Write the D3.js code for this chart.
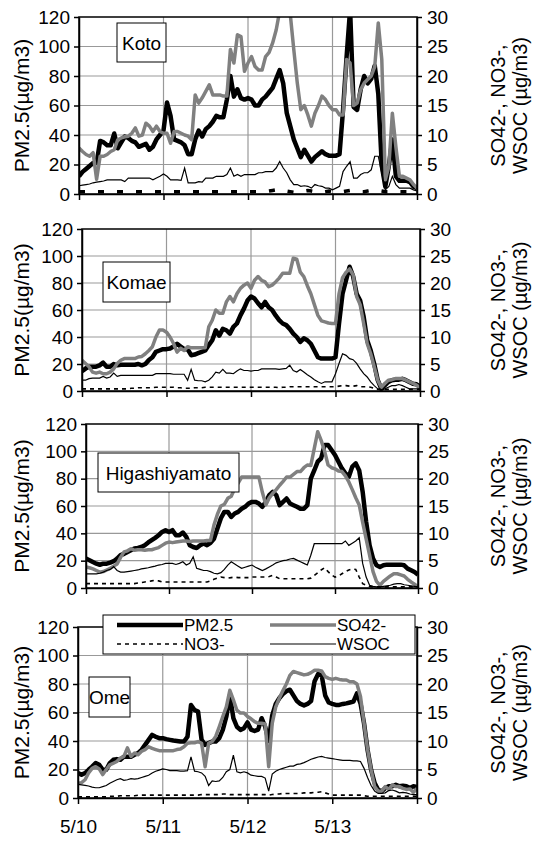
<!DOCTYPE html>
<html>
<head>
<meta charset="utf-8">
<script src="https://cdn.jsdelivr.net/npm/d3@7"></script>
<style>
  html, body { margin: 0; padding: 0; background: #fff; }
  svg { display: block; font-family: "Liberation Sans", Arial, sans-serif; }
</style>
</head>
<body>
<svg id="chart" width="542" height="841"></svg>
<script>
// hourly values, 5/10 00:00 .. 5/14 00:00 (97 points per series)
const kotoPM = [
  12, 15, 17, 19, 21, 21, 36, 35, 33, 33,
  41, 31, 35, 39, 38, 36, 35, 32, 33, 34,
  30, 32, 37, 40, 43, 62, 53, 37, 36, 35,
  33, 27, 27, 37, 43, 39, 44, 46, 49, 53,
  52, 52, 64, 80, 66, 71, 65, 64, 65, 64,
  60, 60, 64, 66, 69, 72, 78, 84, 75, 55,
  46, 37, 31, 25, 30, 26, 22, 25, 27, 29,
  27, 26, 26, 26, 27, 57, 93, 125, 59, 57,
  71, 80, 75, 78, 87, 68, 19, 5, 19, 37,
  12, 9, 9, 9, 8, 5, 4
];
const kotoSO4 = [
  7.8, 7.2, 6.7, 6.4, 7.0, 2.5, 6.4, 6.4, 6.7, 7.2,
  7.5, 9.2, 9.5, 9.7, 9.8, 10.3, 11.2, 9.8, 10.0, 12.0,
  11.5, 10.6, 11.5, 10.6, 10.3, 10.3, 8.6, 10.6, 10.6, 10.3,
  10.0, 9.8, 9.2, 16.8, 15.4, 16.3, 17.4, 18.5, 16.8, 16.8,
  16.8, 16.6, 16.6, 24.5, 22.2, 27.0, 26.7, 20.8, 22.2, 23.3,
  21.6, 21.0, 21.0, 23.3, 24.0, 25.6, 27.8, 31.0, 33.0, 34.0,
  30.5, 24.5, 18.8, 14.3, 15.0, 13.4, 11.5, 13.7, 15.0, 16.6,
  16.0, 15.0, 14.3, 14.3, 13.4, 13.4, 22.8, 22.2, 15.0, 15.4,
  17.7, 18.8, 19.4, 20.0, 21.6, 29.0, 22.8, 2.4, 4.7, 13.7,
  8.0, 3.0, 3.0, 2.7, 2.4, 1.6, 1.0
];
const kotoNO3 = [
  0.4, 0.4, 0.4, 0.4, 0.4, 0.4, 0.4, 0.4, 0.4, 0.4,
  0.4, 0.4, 0.4, 0.4, 0.4, 0.4, 0.4, 0.4, 0.4, 0.4,
  0.4, 0.4, 0.4, 0.4, 0.4, 0.4, 0.4, 0.4, 0.4, 0.4,
  0.4, 0.4, 0.4, 0.4, 0.4, 0.4, 0.4, 0.4, 0.4, 0.4,
  0.4, 0.4, 0.4, 0.4, 0.4, 0.4, 0.4, 0.4, 0.4, 0.4,
  0.4, 0.4, 0.4, 0.4, 0.5, 0.6, 0.7, 0.8, 0.7, 0.5,
  0.4, 0.3, 0.3, 0.4, 0.5, 0.6, 0.5, 0.4, 0.3, 0.3,
  0.4, 0.5, 0.4, 0.3, 0.3, 0.4, 0.5, 0.6, 0.5, 0.4,
  0.4, 0.4, 0.5, 0.6, 0.7, 0.6, 0.5, 0.4, 0.4, 0.4,
  0.4, 0.4, 0.4, 0.4, 0.4, 0.4, 0.4
];
const kotoWSOC = [
  1.4, 1.5, 1.6, 1.7, 1.9, 2.0, 2.1, 2.2, 2.4, 2.4,
  2.4, 2.4, 2.4, 2.1, 2.7, 2.7, 2.7, 2.7, 2.7, 2.7,
  2.7, 2.4, 2.7, 3.0, 3.4, 3.0, 2.4, 2.4, 2.4, 2.3,
  4.4, 1.9, 1.9, 1.9, 2.1, 2.0, 2.7, 2.7, 2.7, 3.0,
  3.0, 3.0, 3.3, 4.4, 3.0, 3.3, 3.0, 3.3, 3.3, 3.3,
  3.3, 3.6, 3.6, 3.8, 3.8, 3.8, 4.4, 5.5, 4.4, 3.6,
  2.4, 1.6, 1.6, 1.3, 1.4, 1.3, 1.0, 1.6, 1.4, 1.3,
  1.0, 1.0, 0.7, 1.0, 1.3, 3.8, 4.7, 5.5, 2.7, 2.7,
  3.3, 3.6, 3.6, 4.1, 6.4, 6.4, 3.6, 0.7, 1.3, 3.0,
  1.6, 1.0, 1.0, 1.0, 1.0, 0.7, 0.5
];

const komaePM = [
  14.6, 16.6, 18, 18, 18, 19, 21, 18, 18, 20,
  19, 19.5, 19.5, 19.5, 19.5, 19.5, 20, 19, 20, 23,
  25, 29, 30, 31, 31, 31.5, 33, 35, 33, 31,
  31, 26.5, 27, 28, 29, 30, 34, 37.6, 45, 41,
  46, 45, 42.5, 47.5, 50, 56, 61, 67, 70, 68.5,
  65, 62, 66, 62, 60, 56, 52.5, 50, 48.8, 46,
  42.5, 40, 36.4, 39, 37.6, 35, 30, 25, 24, 24,
  24, 24, 25, 50, 72, 82, 92, 85, 72, 67,
  55, 37.6, 30, 20, 8, 1.7, 4.2, 6.7, 8, 8.4,
  8.4, 9, 8, 6.7, 5.4, 5, 3
];
const komaeSO4 = [
  5.7, 5.1, 4.5, 3.5, 3.3, 3.5, 3.2, 3.2, 3.5, 4.1,
  5.1, 5.7, 6.0, 6.0, 6.0, 6.0, 6.3, 6.4, 6.9, 7.5,
  8.2, 10.0, 11.3, 11.3, 10.9, 10.0, 8.8, 7.2, 7.9, 7.5,
  8.2, 8.0, 8.0, 8.0, 8.0, 8.0, 11.9, 13.1, 15.0, 14.4,
  14.4, 16.5, 17.5, 16.5, 18.0, 19.0, 19.6, 20.0, 19.0, 20.5,
  21.2, 20.5, 20.2, 19.3, 19.6, 20.2, 20.9, 21.8, 21.8, 21.8,
  24.6, 24.4, 22.0, 21.2, 19.5, 18.0, 16.0, 14.0, 13.0, 12.8,
  12.6, 12.5, 12.5, 18.0, 21.0, 22.0, 22.6, 21.5, 17.5, 16.0,
  12.5, 8.8, 6.9, 4.5, 2.0, 0.7, 1.4, 2.0, 2.1, 2.3,
  2.3, 2.3, 2.0, 1.7, 1.4, 1.1, 0.6
];
const komaeNO3 = [
  0.4, 0.4, 0.4, 0.4, 0.4, 0.4, 0.4, 0.4, 0.4, 0.4,
  0.4, 0.4, 0.4, 0.4, 0.5, 0.5, 0.6, 0.6, 0.6, 0.6,
  0.6, 0.7, 0.7, 0.7, 0.7, 0.7, 0.7, 0.6, 0.6, 0.5,
  0.5, 0.5, 0.6, 0.6, 0.6, 0.7, 0.7, 0.7, 0.7, 0.7,
  0.7, 0.7, 0.7, 0.7, 0.7, 0.7, 0.7, 0.7, 0.7, 0.7,
  0.7, 0.7, 0.7, 0.7, 0.7, 0.7, 0.6, 0.7, 0.7, 0.8,
  0.8, 0.8, 0.8, 0.8, 0.8, 0.8, 0.8, 0.8, 0.8, 0.8,
  0.8, 0.8, 0.8, 0.9, 1.0, 1.0, 0.9, 0.9, 1.0, 0.8,
  0.8, 0.8, 0.7, 0.5, 0.3, 0.3, 0.3, 0.3, 0.3, 0.3,
  0.3, 0.3, 0.3, 0.3, 0.3, 0.3, 0.3
];
const komaeWSOC = [
  2.0, 2.0, 2.3, 2.4, 2.4, 2.4, 2.7, 2.4, 2.6, 3.3,
  2.7, 2.9, 2.9, 2.9, 2.9, 2.9, 2.9, 2.9, 2.9, 2.9,
  2.9, 3.2, 3.2, 3.2, 3.2, 3.2, 3.1, 3.1, 3.1, 3.1,
  2.0, 4.0, 2.0, 1.9, 1.9, 1.7, 2.0, 2.6, 3.5, 3.3,
  4.0, 3.3, 3.3, 3.2, 3.7, 4.1, 3.8, 3.8, 3.7, 3.8,
  3.8, 4.1, 4.1, 4.1, 4.1, 4.1, 4.0, 4.1, 4.2, 4.8,
  3.8, 3.5, 4.0, 3.5, 3.0, 2.6, 2.1, 1.7, 1.4, 1.7,
  1.7, 1.7, 3.2, 5.1, 6.9, 6.6, 6.0, 5.8, 5.1, 4.1,
  3.2, 2.6, 1.7, 1.0, 0.4, 0.1, 0.4, 0.7, 1.0, 1.0,
  1.2, 1.0, 0.7, 0.4, 0.4, 0.4, 0.4
];

const higashiPM = [
  21.5, 20.3, 19, 17.8, 17, 17.8, 17.8, 18.6, 19.6, 21.5,
  24, 25, 26.4, 27.6, 28.9, 29.3, 30, 31.3, 33.3, 35,
  36.7, 38.6, 41, 42.3, 41, 42.3, 38.6, 38.6, 40.6, 37.4,
  31.3, 30, 29.3, 31.3, 32.5, 31.3, 33, 36, 43.5, 51,
  55.7, 55.7, 52, 54.5, 55.7, 58, 59.4, 61.8, 63, 63,
  61.8, 59.4, 63, 68, 70.4, 68, 60.6, 63, 65.5, 61.8,
  60.6, 59.4, 58, 58, 60.6, 80, 86, 92.4, 94.9, 104.6,
  104.6, 101, 97.3, 92.4, 87.5, 84, 81.4, 88.8, 91.2, 86,
  70.4, 48.4, 31.3, 21.5, 16.6, 15.4, 16.6, 17.1, 17.1, 17.1,
  17.1, 17.1, 16.6, 14.2, 13, 11.7, 9.8
];
const higashiSO4 = [
  3.85, 3.7, 3.5, 3.2, 2.9, 3.0, 3.3, 3.6, 4.0, 4.4,
  5.6, 6.6, 6.8, 7.2, 6.9, 7.0, 7.0, 6.9, 7.0, 7.0,
  7.2, 7.4, 7.8, 8.2, 8.4, 8.3, 8.4, 8.5, 8.6, 8.6,
  8.5, 8.6, 8.6, 8.6, 8.6, 8.7, 8.7, 11.5, 13.5, 15.0,
  15.3, 16.4, 16.8, 18.2, 19.2, 20.3, 20.3, 20.3, 20.3, 20.3,
  20.3, 17.5, 15.2, 16.5, 17.3, 18.0, 18.8, 19.5, 20.3, 20.3,
  20.8, 21.3, 21.3, 22.0, 22.5, 22.4, 25.5, 28.6, 27.0, 25.0,
  22.5, 22.0, 21.8, 21.4, 21.3, 20.5, 19.4, 18.0, 16.5, 15.2,
  12.0, 9.0, 6.0, 3.0, 1.2, 0.5, 1.2, 1.7, 2.2, 2.6,
  2.6, 2.4, 2.2, 1.6, 1.1, 0.7, 0.2
];
const higashiNO3 = [
  0.8, 0.8, 0.8, 0.8, 0.8, 0.8, 0.8, 0.8, 0.8, 0.8,
  0.8, 0.8, 0.8, 0.8, 0.8, 0.9, 1.0, 1.1, 1.2, 1.3,
  1.4, 1.3, 1.1, 1.1, 1.1, 1.1, 1.1, 1.1, 1.1, 1.1,
  1.1, 1.1, 1.1, 1.1, 1.1, 1.1, 1.3, 1.6, 1.8, 2.0,
  1.9, 1.8, 1.9, 2.0, 1.9, 1.9, 1.9, 1.9, 2.0, 2.0,
  2.0, 2.0, 2.0, 2.1, 2.3, 2.0, 1.7, 1.7, 1.7, 1.7,
  1.7, 1.7, 1.7, 1.7, 1.7, 1.8, 2.3, 2.8, 3.3, 3.7,
  3.0, 2.4, 2.0, 2.2, 2.6, 3.0, 3.3, 3.5, 3.4, 2.0,
  0.8, 0.5, 0.3, 0.2, 0.2, 0.2, 0.2, 0.2, 0.2, 0.2,
  0.2, 0.2, 0.2, 0.2, 0.2, 0.2, 0.2
];
const higashiWSOC = [
  2.6, 2.6, 2.6, 2.6, 2.7, 2.9, 3.2, 3.4, 3.9, 3.2,
  2.9, 2.9, 3.0, 3.1, 3.2, 3.3, 3.5, 3.6, 3.7, 3.85,
  4.0, 4.2, 4.3, 4.5, 4.5, 4.5, 4.3, 4.5, 4.8, 4.2,
  4.5, 5.7, 3.6, 3.4, 3.2, 3.2, 3.0, 2.7, 2.6, 2.8,
  3.4, 4.2, 4.8, 4.4, 4.0, 3.6, 3.8, 4.0, 4.2, 3.8,
  3.5, 3.2, 3.5, 3.85, 4.2, 4.6, 4.8, 5.0, 5.1, 5.3,
  5.4, 5.1, 4.8, 4.5, 4.2, 6.0, 8.1, 8.1, 8.1, 8.1,
  8.1, 8.1, 8.1, 8.1, 8.1, 8.6, 7.8, 8.2, 8.6, 9.2,
  4.5, 2.0, 0.5, 0.3, 0.2, 0.2, 0.3, 0.4, 0.5, 0.7,
  0.8, 0.8, 0.6, 0.5, 0.4, 0.3, 0.2
];

const omePM = [
  17.5, 16.3, 17.5, 19.8, 22, 24.5, 23.3, 19.8, 19.8, 24.5,
  26.8, 27.3, 26.8, 29, 29, 29, 30.3, 31.5, 33.8, 37.3,
  40.8, 44.3, 43, 42, 42, 41.3, 40.8, 40.3, 40, 39.6,
  39.6, 43, 65.3, 61.8, 60.6, 40.8, 37.3, 38.5, 39.6, 39.6,
  42, 47.8, 57, 72, 56, 50, 47.8, 49, 53, 48,
  47, 48, 56, 50, 40, 58, 66, 70, 73, 75,
  76, 72, 68, 66, 65, 66, 68, 82, 87, 86,
  72, 67, 66, 65.3, 65.3, 66, 66.4, 67, 67.6, 73.4,
  66.4, 52.4, 33.8, 19.8, 10.5, 5.8, 4.7, 7, 8.2, 8.2,
  9.3, 8.2, 8.6, 8.2, 7, 8.2, 7.7
];
const omeSO4 = [
  2.6, 2.7, 3.2, 4.4, 5.2, 5.5, 5.1, 4.1, 5.0, 5.8,
  6.1, 6.4, 7.0, 7.3, 8.8, 7.3, 7.9, 7.6, 8.2, 8.5,
  9.0, 8.7, 8.5, 8.3, 8.3, 8.3, 8.3, 8.3, 8.5, 8.6,
  9.0, 9.6, 9.7, 9.7, 9.9, 9.6, 5.5, 9.6, 9.9, 10.8,
  12.5, 14.3, 16.0, 18.9, 17.2, 15.4, 14.9, 14.9, 14.3, 13.9,
  13.4, 13.1, 13.1, 13.0, 5.5, 13.1, 16.0, 17.5, 18.8, 20.0,
  21.5, 22.2, 22.0, 21.8, 21.6, 21.7, 22.0, 22.4, 22.4, 22.3,
  21.3, 21.0, 20.8, 21.0, 20.8, 20.7, 20.7, 20.4, 20.4, 20.0,
  17.8, 13.1, 8.5, 5.0, 2.0, 1.2, 1.2, 2.0, 1.5, 2.3,
  2.0, 2.0, 1.7, 1.5, 1.6, 1.0, 1.7
];
const omeNO3 = [
  0.2, 0.2, 0.2, 0.2, 0.2, 0.2, 0.2, 0.2, 0.2, 0.3,
  0.3, 0.3, 0.4, 0.4, 0.4, 0.4, 0.4, 0.5, 0.5, 0.5,
  0.5, 0.5, 0.5, 0.5, 0.5, 0.5, 0.5, 0.5, 0.5, 0.5,
  0.5, 0.5, 0.5, 0.5, 0.5, 0.6, 0.6, 0.6, 0.6, 0.6,
  0.6, 0.7, 0.7, 0.6, 0.6, 0.6, 0.6, 0.6, 0.6, 0.6,
  0.6, 0.6, 0.6, 0.6, 0.5, 0.6, 0.7, 0.7, 0.8, 0.8,
  0.8, 0.8, 0.8, 0.8, 0.9, 0.9, 0.9, 1.0, 1.0, 1.1,
  0.9, 0.7, 0.5, 0.5, 0.5, 0.5, 0.5, 0.5, 0.5, 0.5,
  0.5, 0.4, 0.3, 0.3, 0.3, 0.3, 0.3, 0.3, 0.3, 0.3,
  0.3, 0.3, 0.3, 0.3, 0.3, 0.3, 0.3
];
const omeWSOC = [
  2.4, 2.3, 2.2, 2.1, 1.9, 1.8, 1.8, 2.0, 2.2, 2.6,
  2.9, 3.2, 3.4, 3.1, 3.2, 3.4, 3.3, 3.4, 3.6, 3.8,
  4.0, 4.4, 4.7, 4.9, 5.1, 5.0, 4.8, 4.8, 4.8, 4.7,
  4.7, 4.8, 7.2, 4.7, 4.6, 4.4, 3.8, 2.2, 3.0, 2.9,
  3.0, 3.6, 4.6, 5.0, 7.5, 4.6, 4.4, 4.6, 4.4, 4.0,
  3.9, 3.8, 3.8, 3.5, 1.2, 4.2, 4.7, 5.0, 5.2, 5.4,
  5.6, 5.6, 5.9, 6.0, 6.2, 6.5, 6.8, 7.0, 7.2, 7.3,
  7.1, 7.0, 6.9, 6.8, 6.7, 6.6, 6.6, 6.6, 6.5, 6.5,
  6.4, 5.2, 3.6, 2.2, 1.2, 0.8, 0.8, 0.9, 1.3, 1.4,
  1.2, 0.9, 1.0, 0.9, 0.7, 0.6, 0.6
];

const dayTicks = [0, 24, 48, 72, 96];          // hours after 5/10 00:00
const dayLabels = ['5/10', '5/11', '5/12', '5/13', ''];
const leftTicks = [0, 20, 40, 60, 80, 100, 120];
const rightTicks = [0, 5, 10, 15, 20, 25, 30];
const seriesNames = ['PM2.5', 'SO42-', 'NO3-', 'WSOC'];

// layout of the four stacked panels
const panels = [
  { name: 'Koto', pm: kotoPM, so4: kotoSO4, no3: kotoNO3, wsoc: kotoWSOC,
    left: 79, right: 417, top: 17, bottom: 194, box: [117, 23, 49, 39], no3Dash: 'koto' },
  { name: 'Komae', pm: komaePM, so4: komaeSO4, no3: komaeNO3, wsoc: komaeWSOC,
    left: 82, right: 420, top: 229, bottom: 391, box: [103, 262, 67, 40] },
  { name: 'Higashiyamato', pm: higashiPM, so4: higashiSO4, no3: higashiNO3, wsoc: higashiWSOC,
    left: 86, right: 418, top: 424, bottom: 588, box: [98, 453, 141, 39] },
  { name: 'Ome', pm: omePM, so4: omeSO4, no3: omeNO3, wsoc: omeWSOC,
    left: 78, right: 417, top: 627, bottom: 798, box: [89, 677, 41, 40], last: true }
];

const FONT = 19;
const svg = d3.select('#chart');

function drawPanel(p, idx) {
  const x = d3.scaleLinear().domain([0, 96]).range([p.left, p.right]);
  const yL = d3.scaleLinear().domain([0, 120]).range([p.bottom, p.top]);
  const yR = d3.scaleLinear().domain([0, 30]).range([p.bottom, p.top]);
  const g = svg.append('g');

  const clipId = 'clip' + idx;
  svg.append('clipPath').attr('id', clipId)
    .append('rect')
    .attr('x', p.left).attr('y', p.top)
    .attr('width', p.right - p.left).attr('height', p.bottom - p.top);

  // gridlines
  g.append('g').selectAll('line')
    .data(leftTicks.slice(1, -1))
    .join('line')
    .attr('x1', p.left).attr('x2', p.right)
    .attr('y1', d => yL(d)).attr('y2', d => yL(d))
    .attr('stroke', '#999').attr('stroke-width', 1.2);
  g.append('g').selectAll('line')
    .data(dayTicks.slice(1, -1))
    .join('line')
    .attr('x1', d => x(d)).attr('x2', d => x(d))
    .attr('y1', p.top).attr('y2', p.bottom)
    .attr('stroke', '#999').attr('stroke-width', 1.2);

  const plot = g.append('g').attr('clip-path', `url(#${clipId})`);
  const lineL = d3.line().x((d, i) => x(i)).y(d => yL(d));
  const lineR = d3.line().x((d, i) => x(i)).y(d => yR(d));

  plot.append('path').datum(p.pm).attr('d', lineL)
    .attr('fill', 'none').attr('stroke', '#000').attr('stroke-width', 4.5)
    .attr('stroke-linejoin', 'round');
  plot.append('path').datum(p.so4).attr('d', lineR)
    .attr('fill', 'none').attr('stroke', '#808080').attr('stroke-width', 3.5)
    .attr('stroke-linejoin', 'round');
  plot.append('path').datum(p.no3).attr('d', lineR)
    .attr('fill', 'none').attr('stroke', '#000')
    .attr('stroke-width', p.no3Dash ? 3.5 : 1.6)
    .attr('stroke-dasharray', p.no3Dash ? '6,13' : '4,4');
  plot.append('path').datum(p.wsoc).attr('d', lineR)
    .attr('fill', 'none').attr('stroke', '#000').attr('stroke-width', 1.2);

  // frame
  g.append('rect')
    .attr('x', p.left).attr('y', p.top)
    .attr('width', p.right - p.left).attr('height', p.bottom - p.top)
    .attr('fill', 'none').attr('stroke', '#000').attr('stroke-width', 1.5);

  // axes
  const axL = g.append('g').attr('transform', `translate(${p.left},0)`)
    .call(d3.axisLeft(yL).tickValues(leftTicks).tickSize(5).tickSizeOuter(0).tickPadding(4));
  const axR = g.append('g').attr('transform', `translate(${p.right},0)`)
    .call(d3.axisRight(yR).tickValues(rightTicks).tickSize(5).tickSizeOuter(0).tickPadding(5));
  const axB = g.append('g').attr('transform', `translate(0,${p.bottom})`)
    .call(d3.axisBottom(x).tickValues(dayTicks).tickSize(6).tickSizeOuter(0).tickPadding(16)
      .tickFormat((d, i) => p.last ? dayLabels[i] : ''));
  [axL, axR, axB].forEach(ax => {
    ax.select('.domain').attr('stroke', '#000').attr('stroke-width', 1.5);
    ax.selectAll('.tick line').attr('stroke', '#000').attr('stroke-width', 1.5);
    ax.selectAll('text').attr('font-size', FONT).attr('fill', '#000')
      .attr('font-family', '"Liberation Sans", Arial, sans-serif');
  });

  // axis titles
  const yMid = (p.top + p.bottom) / 2;
  g.append('text')
    .attr('transform', `translate(29,${yMid}) rotate(-90)`)
    .attr('text-anchor', 'middle').attr('font-size', 21)
    .text('PM2.5(µg/m3)');
  g.append('text')
    .attr('transform', `translate(505,${yMid}) rotate(-90)`)
    .attr('text-anchor', 'middle').attr('font-size', 20)
    .text('SO42-, NO3-,');
  g.append('text')
    .attr('transform', `translate(527,${yMid}) rotate(-90)`)
    .attr('text-anchor', 'middle').attr('font-size', 20)
    .text('WSOC (µg/m3)');

  // site label box
  const [bx, by, bw, bh] = p.box;
  g.append('rect').attr('x', bx).attr('y', by).attr('width', bw).attr('height', bh)
    .attr('fill', '#fff').attr('stroke', '#000').attr('stroke-width', 1);
  g.append('text').attr('x', bx + bw / 2).attr('y', by + bh / 2 + 7)
    .attr('text-anchor', 'middle').attr('font-size', FONT)
    .text(p.name);
}

panels.forEach(drawPanel);

// legend (inside the Ome panel)
const LEG_FONT = 17;
const legend = svg.append('g');
legend.append('rect').attr('x', 103).attr('y', 615).attr('width', 312).attr('height', 39)
  .attr('fill', '#fff').attr('stroke', '#000').attr('stroke-width', 1);
const legendItems = [
  { name: seriesNames[0], col: 0, row: 0, stroke: '#000', width: 4.5, dash: null },
  { name: seriesNames[1], col: 1, row: 0, stroke: '#808080', width: 3.5, dash: null },
  { name: seriesNames[2], col: 0, row: 1, stroke: '#000', width: 1.6, dash: '4,4' },
  { name: seriesNames[3], col: 1, row: 1, stroke: '#000', width: 1.2, dash: null }
];
legendItems.forEach(it => {
  const x0 = it.col ? 270 : 117;
  const y0 = it.row ? 644 : 625;
  legend.append('line').attr('x1', x0).attr('x2', x0 + 66).attr('y1', y0).attr('y2', y0)
    .attr('stroke', it.stroke).attr('stroke-width', it.width)
    .attr('stroke-dasharray', it.dash);
  legend.append('text').attr('x', x0 + 67).attr('y', y0 + 6)
    .attr('font-size', LEG_FONT).text(it.name);
});
</script>
</body>
</html>
